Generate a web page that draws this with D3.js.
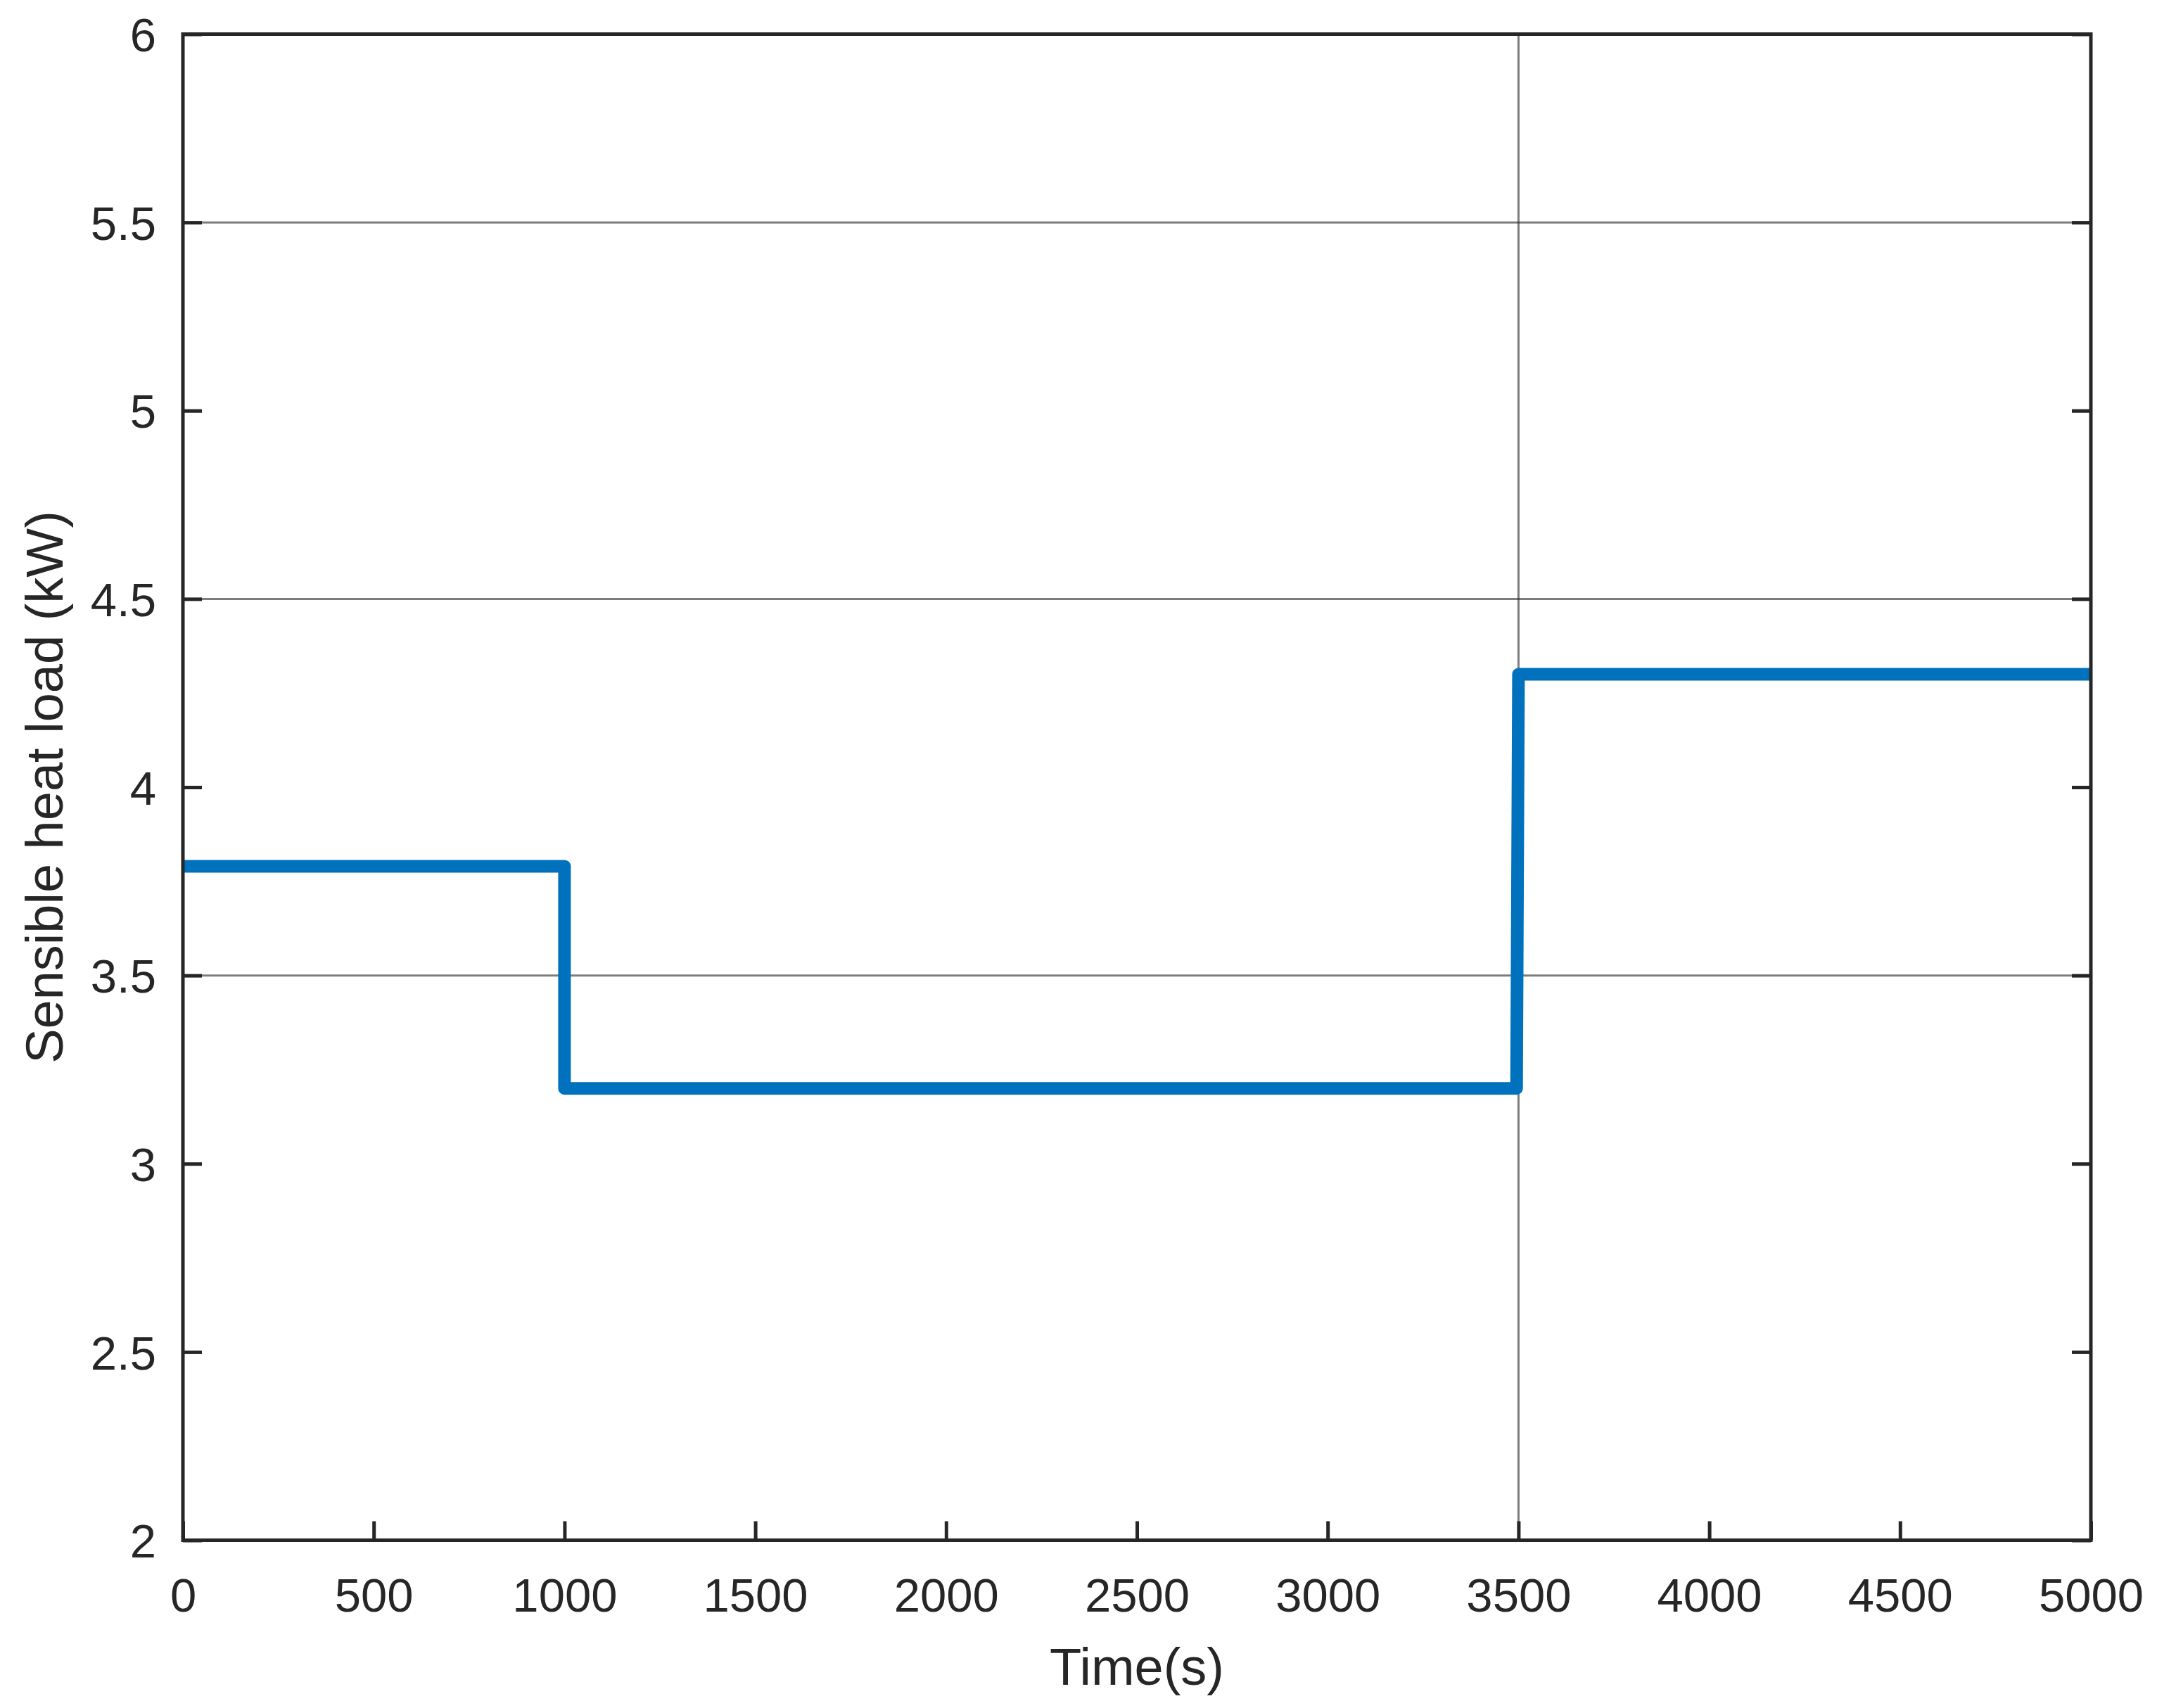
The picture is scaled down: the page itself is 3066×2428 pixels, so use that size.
<!DOCTYPE html>
<html><head><meta charset="utf-8">
<script src="https://cdn.jsdelivr.net/npm/d3@7"></script>
<style>
html,body{margin:0;padding:0;background:#fff;}
svg{display:block;}
text{font-family:"Liberation Sans",Arial,Helvetica,sans-serif;fill:#262626;}
</style></head>
<body>
<svg id="chart" width="3066" height="2428"></svg>
<script>
// Data
const timeS = [0, 1000, 1000, 3495, 3500, 5000];
const loadKW = [3.79, 3.79, 3.2, 3.2, 4.3, 4.3];
const xTicks = [0, 500, 1000, 1500, 2000, 2500, 3000, 3500, 4000, 4500, 5000];
const yTicks = [2, 2.5, 3, 3.5, 4, 4.5, 5, 5.5, 6];
const yGrid = [3.5, 4.5, 5.5];
const xGrid = [3500];
const xLabel = "Time(s)";
const yLabel = "Sensible heat load (kW)";

const W = 3066, H = 2428;
const m = {left: 260, right: W - 2972, top: 48.5, bottom: H - 2189.5};
const iw = W - m.left - m.right, ih = H - m.top - m.bottom;
const svg = d3.select("#chart");
const g = svg.append("g").attr("transform", `translate(${m.left},${m.top})`);

const x = d3.scaleLinear().domain([0, 5000]).range([0, iw]);
const y = d3.scaleLinear().domain([2, 6]).range([ih, 0]);

// grid
g.selectAll(".yg").data(yGrid).join("line")
  .attr("x1", 0).attr("x2", iw).attr("y1", d => y(d)).attr("y2", d => y(d))
  .attr("stroke", "#262626").attr("stroke-opacity", 0.6).attr("stroke-width", 3);
g.selectAll(".xg").data(xGrid).join("line")
  .attr("y1", 0).attr("y2", ih).attr("x1", d => x(d)).attr("x2", d => x(d))
  .attr("stroke", "#262626").attr("stroke-opacity", 0.6).attr("stroke-width", 3);

// line
const pts = timeS.map((t, i) => [t, loadKW[i]]);
g.append("path").datum(pts)
  .attr("d", d3.line().x(d => x(d[0])).y(d => y(d[1])))
  .attr("fill", "none").attr("stroke", "#0072BD").attr("stroke-width", 18)
  .attr("stroke-linejoin", "round");

const TL = 27, fs = 67;
function styleAxis(sel) {
  sel.select(".domain").remove();
  sel.selectAll(".tick line").attr("stroke", "#262626").attr("stroke-width", 5);
  sel.selectAll(".tick text").attr("font-size", fs).attr("fill", "#262626");
}
// bottom
const gb = g.append("g").attr("transform", `translate(0,${ih})`)
  .call(d3.axisBottom(x).tickValues(xTicks).tickSize(-TL).tickFormat(d3.format("d")));
styleAxis(gb);
gb.selectAll(".tick text").attr("y", 101).attr("dy", 0);
// left
const gl = g.append("g")
  .call(d3.axisLeft(y).tickValues(yTicks).tickSize(-TL).tickFormat(d => d3.format("")(d)));
styleAxis(gl);
gl.selectAll(".tick text").attr("x", -38).attr("dy", "0.36em").attr("text-anchor", "end");
// right
const gr = g.append("g").attr("transform", `translate(${iw},0)`)
  .call(d3.axisRight(y).tickValues(yTicks).tickSize(-TL).tickFormat(""));
styleAxis(gr);

// frame
g.append("rect").attr("x", 0).attr("y", 0).attr("width", iw).attr("height", ih)
  .attr("fill", "none").attr("stroke", "#262626").attr("stroke-width", 5);

// labels
svg.append("text").attr("x", m.left + iw / 2).attr("y", 2395)
  .attr("text-anchor", "middle").attr("font-size", 74).text(xLabel);
svg.append("text").attr("transform", `translate(89,${m.top + ih / 2}) rotate(-90)`)
  .attr("text-anchor", "middle").attr("font-size", 74).text(yLabel);
</script>
</body></html>
